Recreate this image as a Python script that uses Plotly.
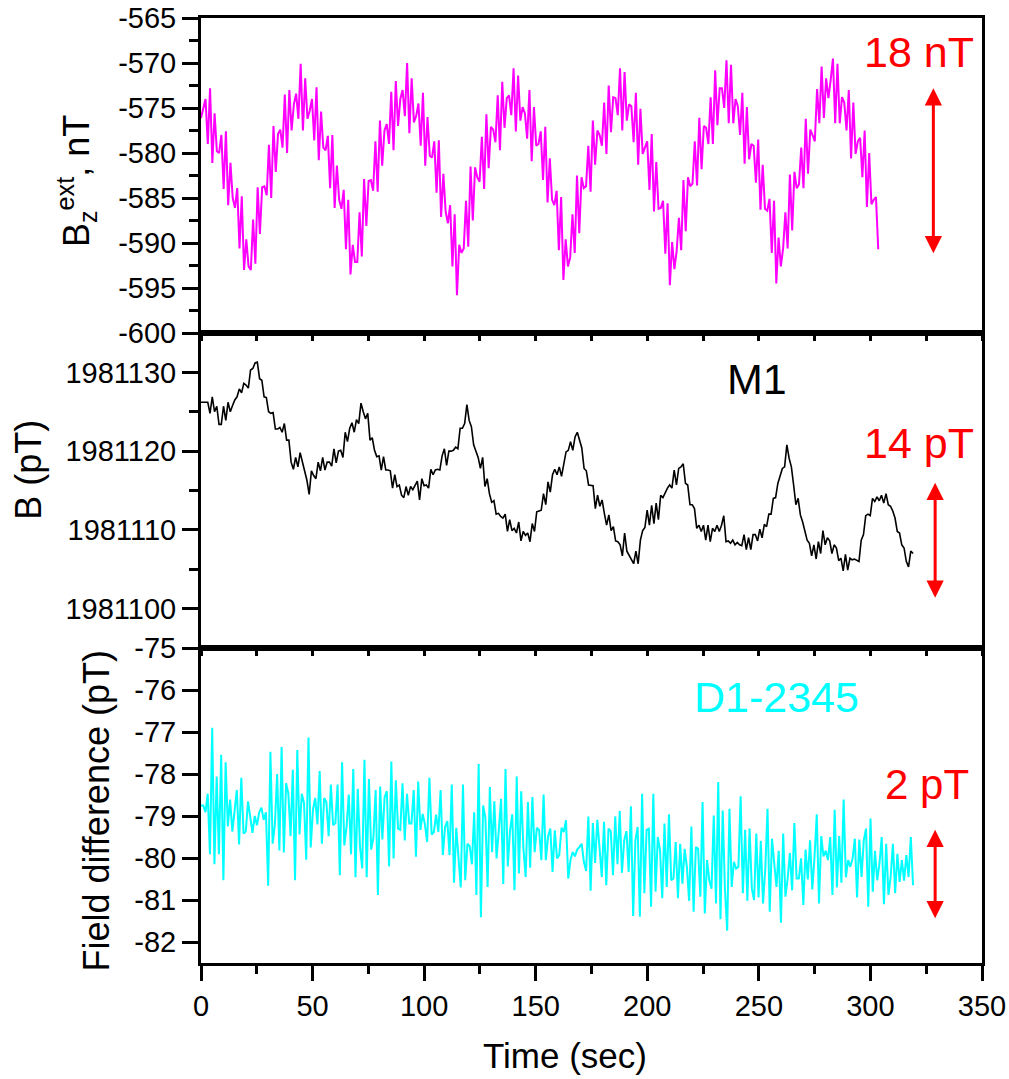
import numpy as np
import plotly.graph_objects as go

# ---------------- data ----------------
T_END_TOP = 303.5   # last sample time of the Bz(ext) trace, s
T_END_MID = 319.1   # last sample time of the M1 trace, s
T_END_BOT = 319.1   # last sample time of the D1-2345 trace, s

bz_ext = [
    -576.1, -575.0, -574.0, -579.0, -572.8, -581.1, -575.6, -579.8, -580.0, -578.0,
    -584.0, -577.6, -585.8, -581.1, -585.0, -586.1, -583.9, -590.6, -584.8, -593.0,
    -589.6, -592.6, -593.0, -587.4, -592.3, -583.8, -589.0, -583.8, -583.7, -584.7,
    -579.1, -585.0, -577.0, -582.1, -577.9, -577.4, -579.4, -573.5, -580.0, -573.0,
    -577.5, -574.6, -573.4, -576.2, -570.1, -577.5, -571.7, -576.2, -575.3, -574.0,
    -578.6, -572.7, -580.8, -575.4, -579.4, -579.7, -578.1, -583.9, -578.0, -586.1,
    -581.4, -585.2, -586.2, -584.1, -590.7, -585.2, -593.5, -590.2, -592.1, -592.1,
    -586.6, -591.5, -582.9, -588.1, -583.1, -583.0, -584.2, -578.7, -584.3, -576.4,
    -581.4, -577.5, -576.8, -579.0, -573.2, -579.7, -572.0, -577.0, -574.0, -573.0,
    -575.9, -570.0, -577.8, -571.7, -576.6, -575.9, -574.5, -579.2, -573.3, -581.4,
    -576.0, -580.3, -580.5, -578.7, -584.4, -578.6, -587.1, -582.3, -586.5, -587.8,
    -585.8, -592.6, -586.8, -595.8, -590.2, -591.1, -590.6, -585.3, -590.4, -581.5,
    -587.5, -581.6, -582.7, -583.2, -578.2, -584.0, -575.7, -581.7, -577.1, -577.4,
    -578.8, -573.6, -579.7, -572.1, -577.2, -573.9, -573.6, -575.8, -570.6, -577.6,
    -571.4, -576.4, -574.9, -575.6, -578.4, -573.0, -580.9, -574.9, -579.2, -579.0,
    -577.6, -583.0, -577.1, -585.5, -580.6, -585.2, -585.8, -584.2, -590.8, -584.9,
    -594.1, -589.6, -592.6, -591.6, -586.8, -591.1, -582.5, -588.9, -582.7, -583.9,
    -583.7, -579.2, -584.3, -576.4, -581.3, -577.5, -578.0, -579.2,
    -574.4, -580.1, -572.5, -577.7, -573.8, -573.9, -575.8, -570.6, -577.5, -571.0,
    -576.4, -574.6, -574.8, -578.8, -573.3, -581.3, -575.1, -580.1, -579.4, -578.7,
    -584.1, -577.9, -586.5, -581.0, -586.2, -586.1, -585.3, -591.2, -585.6, -594.7,
    -589.9, -592.9, -590.9, -587.2, -590.8, -583.0, -588.7, -582.7, -583.7, -583.4,
    -578.7, -583.6, -576.1, -581.8, -577.0, -577.2, -579.0, -573.8, -579.0, -570.8,
    -576.9, -572.8, -572.8, -575.0, -569.7, -576.7, -570.2, -576.7, -574.0, -574.8,
    -578.0, -573.3, -581.2, -574.9, -580.7, -579.0, -579.2, -583.3, -578.5, -586.3,
    -581.3, -586.2, -586.4, -585.1, -591.1, -585.3, -594.5, -589.4, -592.6, -590.6,
    -586.6, -590.6, -582.4, -588.6, -582.1, -583.9, -583.5, -579.4, -583.9, -576.2,
    -582.3, -577.4, -578.0, -578.7, -572.9, -576.7, -570.4, -576.1, -571.7, -573.9,
    -571.9, -569.5, -576.7, -570.1, -576.7, -573.8, -574.4, -577.5, -573.0, -580.6,
    -574.4, -580.1, -578.7, -578.3, -582.7, -577.5, -586.0, -580.0, -585.7, -585.2,
    -584.9, -590.7,
]

b_m1 = [
    1981126.2, 1981126.2, 1981126.2, 1981126.2, 1981124.8, 1981126.9, 1981125.0, 1981125.7, 1981123.4, 1981123.4,
    1981125.7, 1981123.9, 1981126.2, 1981125.0, 1981125.8, 1981126.5, 1981126.9, 1981127.9, 1981127.4, 1981128.6,
    1981128.4, 1981128.0, 1981130.3, 1981130.5, 1981131.2, 1981131.3, 1981129.2, 1981129.0, 1981126.9, 1981126.8,
    1981125.0, 1981124.8, 1981124.9, 1981122.8, 1981122.8, 1981123.0, 1981122.4, 1981123.5, 1981121.4, 1981121.4,
    1981118.6, 1981117.7, 1981119.2, 1981118.0, 1981119.8, 1981118.6, 1981117.6, 1981116.3, 1981114.5, 1981117.5,
    1981116.9, 1981116.5, 1981118.6, 1981117.5, 1981119.2, 1981117.6, 1981118.6, 1981118.6, 1981118.1, 1981120.3,
    1981118.5, 1981120.0, 1981120.1, 1981119.2, 1981122.4, 1981121.2, 1981122.9, 1981123.6, 1981122.4, 1981124.0,
    1981123.5, 1981126.1, 1981125.0, 1981124.1, 1981124.8, 1981121.4, 1981121.7, 1981120.1, 1981119.3, 1981119.4,
    1981117.6, 1981119.3, 1981117.6, 1981117.6, 1981117.5, 1981115.3, 1981117.0, 1981115.5, 1981115.7, 1981114.4,
    1981114.1, 1981115.5, 1981114.4, 1981115.5, 1981115.1, 1981115.6, 1981116.2, 1981113.8, 1981116.5, 1981115.6,
    1981115.7, 1981115.3, 1981117.7, 1981117.0, 1981117.6, 1981117.7, 1981117.6, 1981119.4, 1981120.3, 1981118.2,
    1981120.0, 1981120.0, 1981120.1, 1981120.5, 1981120.3, 1981122.9, 1981122.9, 1981123.5, 1981125.9, 1981123.9,
    1981123.1, 1981120.8, 1981119.9, 1981119.2, 1981117.8, 1981119.2, 1981115.5, 1981116.5, 1981114.6, 1981113.5,
    1981113.7, 1981112.0, 1981112.1, 1981111.7, 1981111.5, 1981112.0, 1981109.8, 1981111.3, 1981109.9, 1981110.2,
    1981109.6, 1981111.0, 1981108.6, 1981109.8, 1981109.3, 1981109.6, 1981108.5, 1981110.8, 1981109.8, 1981112.3,
    1981112.4, 1981112.5, 1981114.6, 1981113.2, 1981116.1, 1981114.8, 1981117.0, 1981117.7, 1981117.0, 1981118.0,
    1981116.8, 1981118.2, 1981119.9, 1981120.1, 1981121.2, 1981120.1, 1981121.8, 1981122.4, 1981121.2, 1981120.4,
    1981117.8, 1981117.5, 1981115.7, 1981115.6, 1981115.6, 1981112.7, 1981114.4, 1981113.0, 1981113.8,
    1981112.1, 1981110.6, 1981111.9, 1981109.9, 1981110.4, 1981108.6, 1981108.5, 1981108.1, 1981106.7, 1981109.6,
    1981107.3, 1981106.7, 1981106.3, 1981105.7, 1981107.3, 1981105.7, 1981108.7, 1981109.9, 1981110.3, 1981112.5,
    1981110.6, 1981113.1, 1981110.8, 1981113.4, 1981111.3, 1981114.4, 1981114.1, 1981114.8, 1981115.3, 1981115.7,
    1981115.3, 1981117.6, 1981115.7, 1981117.8, 1981118.0, 1981118.4, 1981115.9, 1981115.7, 1981113.2, 1981113.2,
    1981112.7, 1981110.2, 1981110.6, 1981109.8, 1981110.6, 1981108.7, 1981110.6, 1981108.5, 1981110.2, 1981109.8,
    1981110.6, 1981109.8, 1981110.6, 1981111.8, 1981108.5, 1981108.6, 1981108.3, 1981108.7, 1981108.1, 1981108.4,
    1981108.1, 1981108.0, 1981109.4, 1981107.5, 1981109.0, 1981107.5, 1981109.4, 1981109.4, 1981108.6, 1981110.1,
    1981109.0, 1981110.7, 1981110.4, 1981112.0, 1981112.0, 1981114.0, 1981114.1, 1981115.9, 1981117.0, 1981117.8,
    1981118.0, 1981120.8, 1981119.1, 1981118.0, 1981115.7, 1981113.2, 1981114.0, 1981111.9, 1981111.0, 1981110.0,
    1981108.7, 1981108.3, 1981106.7, 1981108.1, 1981106.3, 1981108.5, 1981107.0, 1981109.9, 1981108.1, 1981109.0,
    1981108.6, 1981107.0, 1981108.1, 1981107.7, 1981106.1, 1981106.4, 1981104.8, 1981106.9, 1981104.9, 1981106.4,
    1981106.2, 1981106.3, 1981106.1, 1981106.0, 1981108.7, 1981109.4, 1981111.8, 1981112.0, 1981111.8, 1981114.0,
    1981113.6, 1981114.2, 1981113.7, 1981114.4, 1981113.4, 1981114.6, 1981113.2, 1981113.0, 1981112.4, 1981111.5,
    1981109.8, 1981109.6, 1981108.1, 1981107.7, 1981106.0, 1981105.3, 1981107.3, 1981107.0,
]

diff_d1 = [
    -78.75, -78.75, -78.91, -78.47, -79.91, -76.90, -80.15, -78.06, -79.91, -77.54,
    -80.53, -77.72, -79.25, -78.61, -79.37, -78.90, -78.38, -79.68, -78.09, -79.42,
    -79.37, -78.65, -78.99, -79.40, -79.00, -79.22, -78.91, -78.80, -79.09, -78.91,
    -80.66, -77.47, -79.66, -79.20, -78.00, -79.82, -77.36, -79.87, -78.22, -78.46,
    -79.48, -77.90, -80.53, -77.43, -79.44, -78.47, -78.69, -80.04, -77.13, -79.75,
    -78.85, -78.57, -79.20, -77.93, -79.66, -78.57, -78.67, -79.48, -78.25, -79.22,
    -79.17, -78.25, -80.41, -77.72, -79.70, -79.26, -78.49, -79.91, -77.88, -80.46,
    -78.35, -79.72, -80.25, -77.66, -80.46, -78.12, -79.80, -79.52, -78.38, -80.88,
    -78.30, -79.56, -78.55, -78.41, -80.20, -77.70, -80.01, -78.15, -79.30, -79.33,
    -78.22, -79.58, -78.47, -79.18, -79.18, -78.38, -79.97, -78.18, -79.33, -78.95,
    -79.20, -79.62, -78.09, -79.44, -79.38, -78.97, -79.38, -78.38, -79.93, -79.26,
    -79.12, -79.93, -78.25, -80.59, -79.28, -80.09, -80.70, -78.25, -80.53, -79.66,
    -79.72, -80.15, -78.91, -80.88, -77.76, -81.41, -78.75, -79.04, -80.69, -78.31,
    -79.86, -78.65, -80.01, -79.34, -78.59, -80.62, -77.88, -80.20, -79.36, -78.96,
    -80.77, -78.06, -80.37, -78.41, -79.78, -80.45, -78.67, -80.23, -78.55, -79.86,
    -79.28, -79.34, -80.05, -78.49, -80.05, -79.48, -79.30, -80.33, -79.34, -80.01,
    -79.93, -79.28, -79.38, -79.10, -80.49, -80.05, -79.86, -79.96, -79.80, -79.74,
    -79.66, -80.09, -80.31, -79.01, -80.78, -79.17, -80.12, -79.09,
    -79.78, -80.45, -79.14, -80.65, -79.30, -79.36, -80.41, -79.01, -80.15, -78.88,
    -80.35, -79.58, -79.36, -80.33, -78.77, -81.38, -79.58, -79.26, -81.40, -78.47,
    -80.84, -79.33, -79.30, -81.16, -78.47, -80.80, -79.50, -79.82, -80.96, -79.18,
    -80.69, -78.96, -80.53, -80.49, -79.62, -80.96, -79.66, -80.61, -79.78, -80.21,
    -81.02, -79.25, -81.28, -79.74, -79.78, -80.92, -78.67, -81.32, -80.05, -80.53,
    -80.73, -78.99, -81.08, -78.19, -81.46, -78.87, -80.75, -81.73, -78.83, -80.69,
    -80.09, -80.25, -80.21, -78.53, -80.84, -79.33, -81.02, -79.30, -80.73, -81.00,
    -79.42, -80.94, -79.59, -81.08, -80.27, -78.83, -81.28, -79.54, -80.13, -80.69,
    -79.83, -81.54, -79.42, -80.92, -80.49, -79.88, -80.77, -79.17, -80.49, -80.49,
    -80.01, -81.12, -79.80, -80.51, -79.58, -80.75, -79.97, -78.96, -81.08, -79.48,
    -79.96, -79.83, -80.05, -79.50, -80.88, -78.85, -80.70, -79.48, -80.59, -78.61,
    -80.46, -80.05, -80.21, -80.01, -79.54, -80.94, -79.56, -80.45, -79.58, -79.30,
    -81.16, -79.06, -80.80, -79.83, -80.53, -80.13, -79.50, -81.10, -79.66, -80.88,
    -80.45, -79.66, -80.84, -79.90, -80.57, -80.05, -80.54, -79.93, -80.45, -79.50,
    -80.65,
]

# tick values / labels
X_TICKS = [0, 50, 100, 150, 200, 250, 300, 350]
X_TICK_TEXT = ["0", "50", "100", "150", "200", "250", "300", "350"]
X_SMALL_TICKS = [0, 25, 50, 75, 100, 125, 150, 175, 200, 225, 250, 275, 300, 325, 350]
TOP_TICKS = [-600, -595, -590, -585, -580, -575, -570, -565]
TOP_TICK_TEXT = ["-600", "-595", "-590", "-585", "-580", "-575", "-570", "-565"]
MID_TICKS = [1981100, 1981110, 1981120, 1981130]
MID_TICK_TEXT = ["1981100", "1981110", "1981120", "1981130"]
BOT_TICKS = [-82, -81, -80, -79, -78, -77, -76, -75]
BOT_TICK_TEXT = ["-82", "-81", "-80", "-79", "-78", "-77", "-76", "-75"]

# scale-bar arrows (time, low, high) in data units of each panel
ARROW_TOP = (328.2, -591.3, -572.8)
ARROW_MID = (329.0, 1981101.2, 1981116.0)
ARROW_BOT = (329.0, -81.47, -79.33)

# ---------------- figure ----------------
t_top = np.linspace(0, T_END_TOP, len(bz_ext))
t_mid = np.linspace(0, T_END_MID, len(b_m1))
t_bot = np.linspace(0, T_END_BOT, len(diff_d1))

FONT = "Liberation Sans, Arial, sans-serif"

fig = go.Figure()
fig.add_trace(go.Scatter(x=t_top, y=bz_ext, mode="lines",
                         line=dict(color="#FF00FF", width=2), xaxis="x", yaxis="y"))
fig.add_trace(go.Scatter(x=t_mid, y=b_m1, mode="lines",
                         line=dict(color="black", width=1.6), xaxis="x2", yaxis="y2"))
fig.add_trace(go.Scatter(x=t_bot, y=diff_d1, mode="lines",
                         line=dict(color="#00FFFF", width=2), xaxis="x3", yaxis="y3"))

common = dict(showline=True, linecolor="black", linewidth=3, mirror=True,
              showgrid=False, zeroline=False, ticks="outside", tickcolor="black",
              tickwidth=3, automargin=False,
              tickfont=dict(family=FONT, size=29, color="black"))

inner_x = dict(common, range=[0, 350], tickmode="array", tickvals=X_SMALL_TICKS,
               ticklen=5, showticklabels=False)

fig.update_layout(
    template="none",
    width=1009, height=1079, autosize=False,
    margin=dict(l=201, r=27, t=18, b=116, autoexpand=False),
    paper_bgcolor="white", plot_bgcolor="white",
    showlegend=False,
    font=dict(family=FONT, color="black"),
    xaxis=dict(inner_x, anchor="y"),
    xaxis2=dict(inner_x, anchor="y2"),
    xaxis3=dict(common, anchor="y3", range=[0, 350], tickmode="array",
                tickvals=X_TICKS, ticktext=X_TICK_TEXT, ticklen=15,
                minor=dict(ticks="outside", ticklen=8, tickwidth=3, tickcolor="black",
                           tick0=0, dtick=25)),
    yaxis=dict(common, domain=[2 / 3, 1], range=[-600, -565], tickmode="array",
               tickvals=TOP_TICKS, ticktext=TOP_TICK_TEXT, ticklen=16,
               minor=dict(ticks="outside", ticklen=9, tickwidth=3, tickcolor="black",
                          tick0=-600, dtick=2.5)),
    yaxis2=dict(common, domain=[1 / 3, 2 / 3], range=[1981095, 1981135], tickmode="array",
                tickvals=MID_TICKS, ticktext=MID_TICK_TEXT, ticklen=16,
                minor=dict(ticks="outside", ticklen=9, tickwidth=3, tickcolor="black",
                           tick0=1981095, dtick=5)),
    yaxis3=dict(common, domain=[0, 1 / 3], range=[-82.5, -75], tickmode="array",
                tickvals=BOT_TICKS, ticktext=BOT_TICK_TEXT, ticklen=16),
)

ann = []


def label(text, x, y, size, color, angle=0):
    ann.append(dict(text=text, x=x, y=y, xref="paper", yref="paper", showarrow=False,
                    xanchor="center", yanchor="middle", textangle=angle,
                    font=dict(family=FONT, size=size, color=color)))


label("18 nT", 0.919, 0.964, 43, "#FF0000")
label("M1", 0.7125, 0.618, 43, "black")
label("14 pT", 0.919, 0.550, 43, "#FF0000")
label("D1-2345", 0.7375, 0.2815, 43, "#00FFFF")
label("2 pT", 0.9296, 0.1894, 42, "#FF0000")

label("B<sub>z</sub><sup>ext</sup>, nT", -0.1594, 0.827, 36, "black", -90)
label("B (pT)", -0.2202, 0.522, 36, "black", -90)
label("Field difference (pT)", -0.1338, 0.1608, 36, "black", -90)
label("Time (sec)", 0.466, -0.0974, 35, "black")


def arrow(spec, xr, yr):
    t, lo, hi = spec
    ann.append(dict(text="", x=t, y=hi, ax=t, ay=lo, xref=xr, yref=yr, axref=xr, ayref=yr,
                    showarrow=True, arrowside="end+start", arrowhead=2, startarrowhead=2,
                    arrowsize=1.15, startarrowsize=1.15, arrowwidth=3, arrowcolor="#FF0000",
                    standoff=0, startstandoff=0))


arrow(ARROW_TOP, "x", "y")
arrow(ARROW_MID, "x2", "y2")
arrow(ARROW_BOT, "x3", "y3")

fig.update_layout(annotations=ann)

fig.write_html("out.html", config={"displayModeBar": False},
               post_script="document.body.style.margin='0';")
